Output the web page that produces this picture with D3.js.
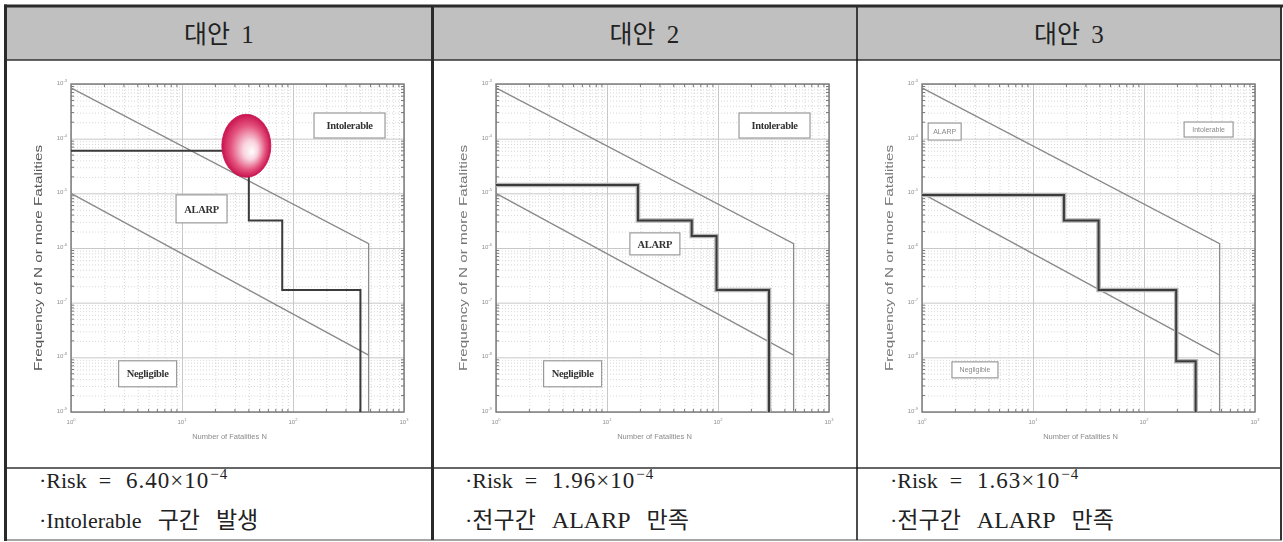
<!DOCTYPE html>
<html>
<head>
<meta charset="utf-8">
<script src="https://cdnjs.cloudflare.com/ajax/libs/d3/7.8.5/d3.min.js"></script>
<style>
  body { margin: 0; background: #fff; }
  svg { display: block; }
</style>
</head>
<body>
<div id="chart"></div>
<script>
// table text
var columns = ["대안 1", "대안 2", "대안 3"];
var riskValues = ["6.40", "1.96", "1.63"];
var riskExponent = "−4";
var verdictHeads = ["Intolerable", "전구간", "전구간"];
var verdictTails = ["구간 발생", "ALARP 만족", "ALARP 만족"];

// axes (log decades)
var nDecades = [1, 10, 100, 1000];
var nExponents = ["0", "1", "2", "3"];
var fDecades = [1e-9, 1e-8, 1e-7, 1e-6, 1e-5, 1e-4, 1e-3];
var fExponents = ["-9", "-8", "-7", "-6", "-5", "-4", "-3"];

// F-N criterion lines
var upperN = [1, 480, 480];
var upperF = [8.5e-4, 1.2e-6, 1e-9];
var lowerN = [1, 480];
var lowerF = [1e-5, 1.1e-8];

// F-N curves of each alternative (step after)
var alt1N = [1, 40, 80, 405];
var alt1F = [6.0e-5, 3.2e-6, 1.7e-7, 1e-9];
var alt2N = [1, 19, 58, 97, 288];
var alt2F = [1.42e-5, 3.2e-6, 1.66e-6, 1.7e-7, 1e-9];
var alt3N = [1, 19, 39, 195, 292];
var alt3F = [9.3e-6, 3.2e-6, 1.7e-7, 8.5e-9, 1e-9];

// region labels
var regionNames = ["Intolerable", "ALARP", "Negligible"];
var label1N = [323, 15, 4.9];
var label1F = [1.74e-4, 5.2e-6, 5e-9];
var label2N = [323, 27, 4.9];
var label2F = [1.74e-4, 1.19e-6, 5e-9];
var label3N = [382, 1.6, 3.0];
var label3F = [1.47e-4, 1.35e-4, 5.9e-9];

// exceeded point in alternative 1
var highlightN = [38];
var highlightF = [7.4e-5];

var svgWidth = 1283;
var svgHeight = 542;

var svg = d3.select("#chart")
  .append("svg")
  .attr("width", svgWidth)
  .attr("height", svgHeight);

var defs = svg.append("defs");
defs.append("filter").attr("id", "soft")
  .append("feGaussianBlur").attr("stdDeviation", 0.45);

var grad = defs.append("radialGradient")
  .attr("id", "glow")
  .attr("cx", "50%").attr("cy", "50%").attr("r", "50%")
  .attr("fx", "62%").attr("fy", "60%");
grad.append("stop").attr("offset", "0%").attr("stop-color", "#ffffff");
grad.append("stop").attr("offset", "30%").attr("stop-color", "#f8d3de");
grad.append("stop").attr("offset", "70%").attr("stop-color", "#e4557f");
grad.append("stop").attr("offset", "100%").attr("stop-color", "#c9134f");

// ---------- table ----------
var colEdges = [6, 432, 857, 1281];
var tableTop = 6, headerBottom = 60, rowLine = 468, tableBottom = 540;
var serif = "'Liberation Serif', 'Noto Sans CJK KR', serif";
var hangul = "'Noto Sans CJK KR', sans-serif";

svg.append("rect")
  .attr("x", colEdges[0]).attr("y", tableTop)
  .attr("width", colEdges[3] - colEdges[0])
  .attr("height", headerBottom - tableTop)
  .attr("fill", "#c0c0c0");

columns.forEach(function(c, i) {
  var cx = (colEdges[i] + colEdges[i + 1]) / 2;
  svg.append("text")
    .attr("x", cx).attr("y", 43)
    .attr("text-anchor", "middle")
    .style("font-family", serif)
    .style("font-size", "25px")
    .style("word-spacing", "5px")
    .attr("fill", "#222")
    .text(c);

  var tx = colEdges[i] + 33;
  var t1 = svg.append("text")
    .attr("x", tx).attr("y", 488)
    .style("font-family", serif)
    .style("font-size", "22px")
    .attr("fill", "#222");
  t1.append("tspan").text("·Risk");
  t1.append("tspan").attr("dx", 12).text("=");
  t1.append("tspan").attr("dx", 15)
    .style("font-size", "23px")
    .style("letter-spacing", "1px")
    .text(riskValues[i] + "×10");
  t1.append("tspan")
    .attr("dy", -9).attr("dx", 1)
    .style("font-size", "15px")
    .style("letter-spacing", "1px")
    .text(riskExponent);

  var t2 = svg.append("text")
    .attr("x", tx).attr("y", 528)
    .style("font-family", serif)
    .style("font-size", "22px")
    .attr("fill", "#222");
  t2.append("tspan").text("·");
  t2.append("tspan")
    .style("font-family", i === 0 ? serif : hangul)
    .style("font-size", i === 0 ? "22px" : "23px")
    .text(verdictHeads[i]);
  var words = verdictTails[i].split(" ");
  words.forEach(function(w) {
    var isLatin = /^[A-Za-z]+$/.test(w);
    t2.append("tspan")
      .attr("dx", 16)
      .style("font-family", isLatin ? serif : hangul)
      .style("font-size", isLatin ? "24px" : "23px")
      .text(w);
  });
});

// table lines
function hline(y, x1, x2, w, col) {
  svg.append("line").attr("x1", x1).attr("x2", x2).attr("y1", y).attr("y2", y)
    .attr("stroke", col).attr("stroke-width", w);
}
function vline(x, y1, y2, w, col) {
  svg.append("line").attr("x1", x).attr("x2", x).attr("y1", y1).attr("y2", y2)
    .attr("stroke", col).attr("stroke-width", w);
}
hline(headerBottom, 5, 1282, 1.5, "#333");
hline(rowLine, 5, 1282, 1.5, "#333");
hline(tableBottom, 4, 1282, 1.5, "#888");
vline(colEdges[1] + 0.5, tableTop, tableBottom, 3, "#2a2a2a");
vline(colEdges[2], tableTop, tableBottom, 1.5, "#111");
vline(colEdges[3], tableTop, tableBottom, 2, "#333");
vline(5.5, 4.5, 541, 3, "#2a2a2a");
hline(6, 4, 1283, 3, "#2a2a2a");

// ---------- F-N charts ----------
var plotLefts = [71, 496, 922];
var plotTop = 84, plotW = 333, plotH = 328;

var xScale = d3.scaleLog().domain([1, 1000]).range([0, plotW]);
var yScale = d3.scaleLog().domain([1e-9, 1e-3]).range([plotH, 0]);

var minorN = [];
nDecades.slice(0, 3).forEach(function(d) {
  for (var k = 2; k <= 9; k++) minorN.push(d * k);
});
var minorF = [];
fDecades.slice(0, 6).forEach(function(d) {
  for (var k = 2; k <= 9; k++) minorF.push(d * k);
});

var line = d3.line()
  .x(function(d) { return xScale(d[0]); })
  .y(function(d) { return yScale(d[1]); });
var stepLine = d3.line()
  .x(function(d) { return xScale(d[0]); })
  .y(function(d) { return yScale(d[1]); })
  .curve(d3.curveStepAfter);

var curves = [[alt1N, alt1F], [alt2N, alt2F], [alt3N, alt3F]];
var labels = [[label1N, label1F], [label2N, label2F], [label3N, label3F]];
var boxSizes = [
  [[71, 25], [51, 28], [58, 26]],
  [[71, 25], [50, 22], [58, 26]],
  [[49, 15], [33, 17], [46, 16]]
];

function zip(a, b) { return a.map(function(v, i) { return [v, b[i]]; }); }

plotLefts.forEach(function(left, ci) {
  var g = svg.append("g").attr("transform", "translate(" + left + "," + plotTop + ")");
  var marks = g.append("g").attr("filter", "url(#soft)");

  // minor dotted grid
  marks.append("g")
    .call(d3.axisBottom(xScale).tickValues(minorN).tickSize(plotH).tickFormat(""))
    .call(function(s) {
      s.select(".domain").remove();
      s.selectAll("line").attr("stroke", "#d8d8d8").attr("stroke-dasharray", "1,2");
    });
  marks.append("g")
    .call(d3.axisRight(yScale).tickValues(minorF).tickSize(plotW).tickFormat(""))
    .call(function(s) {
      s.select(".domain").remove();
      s.selectAll("line").attr("stroke", "#d8d8d8").attr("stroke-dasharray", "1,2");
    });
  // major grid
  marks.append("g")
    .call(d3.axisBottom(xScale).tickValues(nDecades).tickSize(plotH).tickFormat(""))
    .call(function(s) {
      s.select(".domain").remove();
      s.selectAll("line").attr("stroke", "#c8c8c8");
    });
  marks.append("g")
    .call(d3.axisRight(yScale).tickValues(fDecades).tickSize(plotW).tickFormat(""))
    .call(function(s) {
      s.select(".domain").remove();
      s.selectAll("line").attr("stroke", "#c8c8c8");
    });

  // small inward ticks on the frame
  [0, plotH].forEach(function(yy) {
    marks.append("g").selectAll("line").data(minorN).enter().append("line")
      .attr("x1", function(d) { return xScale(d); })
      .attr("x2", function(d) { return xScale(d); })
      .attr("y1", yy).attr("y2", yy === 0 ? 3 : plotH - 3)
      .attr("stroke", "#777");
  });
  [0, plotW].forEach(function(xx) {
    marks.append("g").selectAll("line").data(minorF).enter().append("line")
      .attr("y1", function(d) { return yScale(d); })
      .attr("y2", function(d) { return yScale(d); })
      .attr("x1", xx).attr("x2", xx === 0 ? 3 : plotW - 3)
      .attr("stroke", "#777");
  });

  // frame
  marks.append("rect")
    .attr("width", plotW).attr("height", plotH)
    .attr("fill", "none").attr("stroke", "#777").attr("stroke-width", 1.4);

  // criterion lines
  marks.append("path").datum(zip(upperN, upperF))
    .attr("d", line).attr("fill", "none")
    .attr("stroke", "#8a8a8a").attr("stroke-width", 1.3);
  marks.append("path").datum(zip(lowerN, lowerF))
    .attr("d", line).attr("fill", "none")
    .attr("stroke", "#8a8a8a").attr("stroke-width", 1.3);

  // F-N curve
  var pts = zip(curves[ci][0], curves[ci][1]);
  if (ci > 0) {
    marks.append("path").datum(pts)
      .attr("d", stepLine).attr("fill", "none")
      .attr("stroke", "#b4b4b4").attr("stroke-width", 4.5);
  }
  marks.append("path").datum(pts)
    .attr("d", stepLine).attr("fill", "none")
    .attr("stroke", "#3a3a3a").attr("stroke-width", 2);

  // highlight of the intolerable part
  if (ci === 0) {
    marks.append("ellipse")
      .attr("cx", xScale(highlightN[0]))
      .attr("cy", yScale(highlightF[0]))
      .attr("rx", 24.5).attr("ry", 31.5)
      .attr("fill", "url(#glow)")
      .attr("stroke", "#c9134f").attr("stroke-width", 0.8);
  }

  // region labels
  var ln = labels[ci][0], lf = labels[ci][1];
  regionNames.forEach(function(name, k) {
    var w = boxSizes[ci][k][0], h = boxSizes[ci][k][1];
    var cx = xScale(ln[k]), cy = yScale(lf[k]);
    g.append("rect")
      .attr("x", cx - w / 2).attr("y", cy - h / 2)
      .attr("width", w).attr("height", h)
      .attr("fill", "#fff").attr("stroke", "#9a9a9a").attr("stroke-width", 1.2);
    g.append("text")
      .attr("x", cx).attr("y", cy)
      .attr("dy", "0.35em")
      .attr("text-anchor", "middle")
      .style("font-family", ci < 2 ? "'Liberation Serif', serif" : "'Liberation Sans', sans-serif")
      .style("font-size", ci < 2 ? "10.5px" : "7px")
      .style("font-weight", ci < 2 ? "bold" : "normal")
      .style("letter-spacing", ci < 2 ? "-0.3px" : "0px")
      .attr("fill", ci < 2 ? "#333" : "#888")
      .text(name);
  });

  // tick labels
  var tickCol = "#8e8e8e";
  nDecades.forEach(function(d, k) {
    var t = g.append("text")
      .attr("x", xScale(d)).attr("y", plotH + 12)
      .attr("text-anchor", "middle")
      .style("font-family", "'Liberation Sans', sans-serif")
      .style("font-size", "6px")
      .attr("fill", tickCol);
    t.append("tspan").text("10");
    t.append("tspan").attr("dy", -3).style("font-size", "4px").text(nExponents[k]);
  });
  fDecades.forEach(function(d, k) {
    var t = g.append("text")
      .attr("x", -4).attr("y", yScale(d) + 1)
      .attr("text-anchor", "end")
      .style("font-family", "'Liberation Sans', sans-serif")
      .style("font-size", "6px")
      .attr("fill", tickCol);
    t.append("tspan").text("10");
    t.append("tspan").attr("dy", -3).style("font-size", "4px").text(fExponents[k]);
  });

  // axis titles
  g.append("text")
    .attr("x", plotW / 2 - 8).attr("y", plotH + 27)
    .attr("text-anchor", "middle")
    .style("font-family", "'Liberation Sans', sans-serif")
    .style("font-size", "7.5px")
    .attr("fill", "#8a8a8a")
    .text("Number of Fatalities N");
  g.append("text")
    .attr("transform", "translate(-29," + (plotH / 2 + 10) + ") rotate(-90)")
    .attr("text-anchor", "middle")
    .attr("textLength", 226)
    .attr("lengthAdjust", "spacingAndGlyphs")
    .style("font-family", "'Liberation Sans', sans-serif")
    .style("font-size", "11px")
    .attr("fill", ci === 0 ? "#555" : "#777")
    .text("Frequency of N or more Fatalities");
});
</script>
</body>
</html>
